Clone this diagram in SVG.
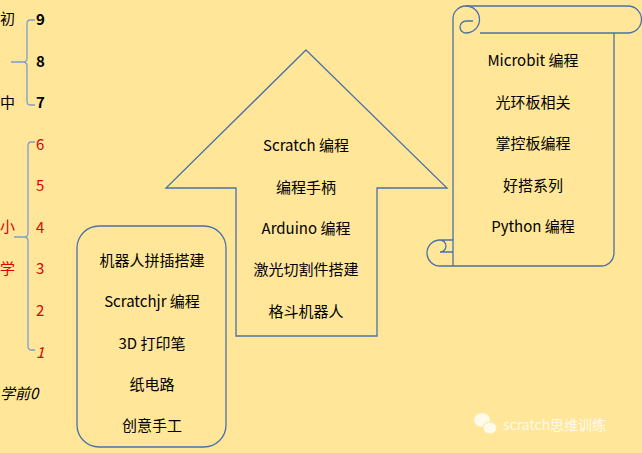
<svg xmlns="http://www.w3.org/2000/svg" width="642" height="453" viewBox="0 0 642 453">
<style>
.s{fill:none;stroke:#4a72a8;stroke-width:1.3}
.b{fill:none;stroke:#7a9fd0;stroke-width:1.3}
text{font-family:"Noto Sans CJK SC","Liberation Sans",sans-serif;font-size:15px;fill:#000}
.c{text-anchor:middle}
.r{fill:#e00000}
.k{font-weight:bold}
</style>
<rect width="642" height="453" fill="#ffe699"/>
<g id="brackets">
<path class="b" d="M35,20 H30 Q27,20 27,24 V58 Q27,62 23,62 H11 M23,62 Q27,62 27,66 V101 Q27,105 30,105 H35"/>
<path class="b" d="M35,142 H31 Q28,142 28,146 V233 Q28,237 24,237 H14 M24,237 Q28,237 28,241 V346 Q28,350 31,350 H35"/>
</g>
<g id="labels">
<text x="0" y="24">初</text><text x="0" y="108">中</text>
<text class="k" x="36" y="25">9</text><text class="k" x="36" y="67">8</text><text class="k" x="36" y="108">7</text>
<text class="r" x="0" y="232">小</text><text class="r" x="0" y="274">学</text>
<text class="r" x="36" y="150">6</text><text class="r" x="36" y="191">5</text><text class="r" x="36" y="233">4</text><text class="r" x="36" y="274">3</text><text class="r" x="36" y="316">2</text><text class="r" x="36" y="358" font-style="italic">1</text>
<text x="0" y="399" font-style="italic">学前0</text>
</g>
<g id="box">
<rect class="s" x="77" y="226" width="149" height="221" rx="22"/>
<text class="c" x="152" y="266">机器人拼插搭建</text>
<text class="c" x="152" y="307">Scratchjr 编程</text>
<text class="c" x="152" y="349">3D 打印笔</text>
<text class="c" x="152" y="390">纸电路</text>
<text class="c" x="152" y="431">创意手工</text>
</g>
<g id="arrow">
<path class="s" d="M306,50 L447,188 H377 V336 H236 V188 H166 Z"/>
<text class="c" x="306" y="151">Scratch 编程</text>
<text class="c" x="306" y="193">编程手柄</text>
<text class="c" x="306" y="234">Arduino 编程</text>
<text class="c" x="306" y="275">激光切割件搭建</text>
<text class="c" x="306" y="317">格斗机器人</text>
</g>
<g id="scroll">
<path class="s" d="M453,240 V20 A13,13 0 0 1 466,6 H628 A13,13 0 0 1 628,33 H480"/>
<path class="s" d="M466,6 A13,13 0 0 1 466,33 H466 A6,6 0 0 1 466,21 H473"/>
<path class="s" d="M614,33 V253 A13,13 0 0 1 601,266 H440 A13,13 0 0 1 440,240 H453 V266 M440,240 A6,6 0 0 1 440,252 H453"/>
<text class="c" x="533" y="66">Microbit 编程</text>
<text class="c" x="533" y="108">光环板相关</text>
<text class="c" x="533" y="149">掌控板编程</text>
<text class="c" x="533" y="191">好搭系列</text>
<text class="c" x="533" y="232">Python 编程</text>
</g>
<g id="watermark">
<ellipse cx="482" cy="420" rx="8" ry="7" fill="#fffbea"/>
<ellipse cx="490" cy="428" rx="7" ry="6" fill="#fffbea" stroke="#ffe699"/>
<text x="503" y="430" style="fill:#fffbea;font-size:14px">scratch思维训练</text>
</g>
</svg>
